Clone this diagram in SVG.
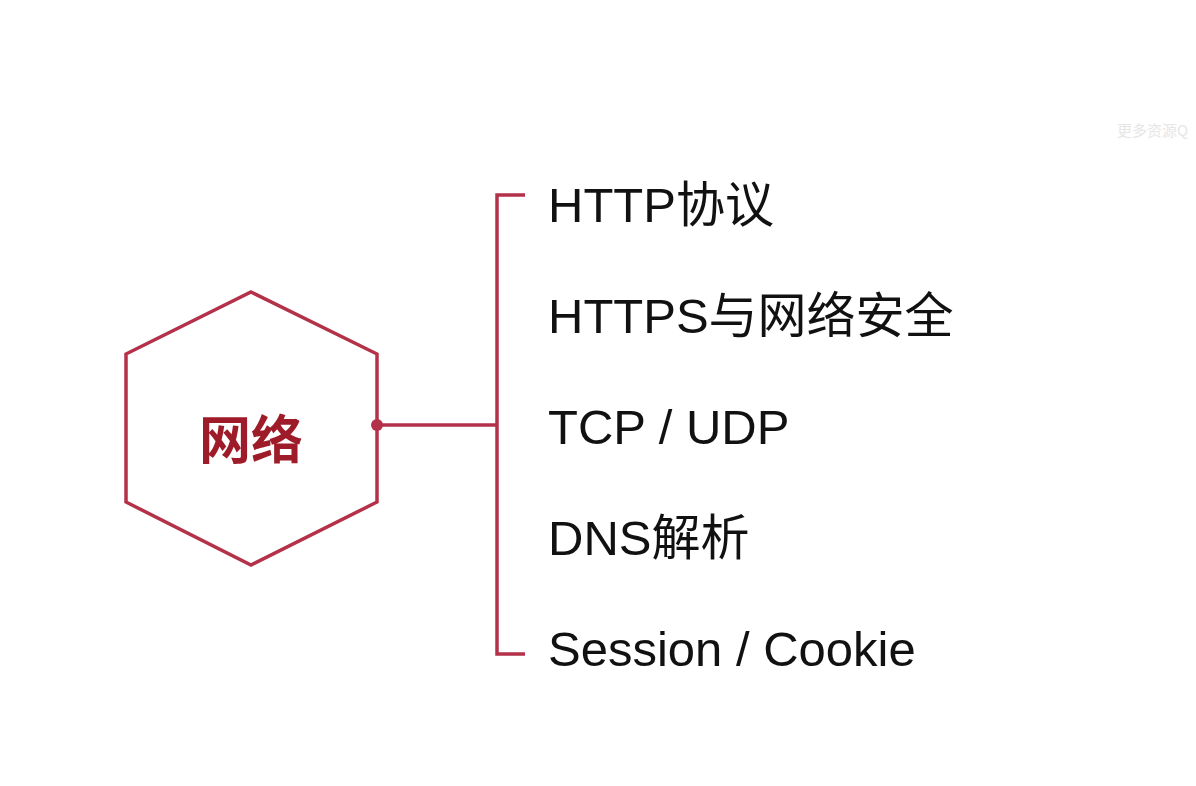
<svg xmlns="http://www.w3.org/2000/svg" width="1196" height="786" viewBox="0 0 1196 786">
<style>
.ln{fill:none;stroke:#b3324a;stroke-width:3.5;stroke-linecap:butt;stroke-linejoin:miter}
.lbl{font-family:"Liberation Sans","Noto Sans CJK SC",sans-serif;font-size:49px;fill:#111}
.ctr{font-family:"Noto Sans CJK SC",sans-serif;font-size:52px;font-weight:600;fill:#9e1c29}
.wm{font-family:"Noto Sans CJK SC",sans-serif;font-size:15px;fill:#e6e6e6}
</style>
<rect width="1196" height="786" fill="#ffffff"/>
<text class="wm" x="1117" y="136">更多资源Q</text>
<g id="hub">
<polygon class="ln" points="251,292 377,354 377,502 251,565 126,502 126,354"/>
<text class="ctr" x="251" y="459" text-anchor="middle">网络</text>
</g>
<g id="connectors">
<circle cx="377" cy="425" r="6" fill="#b3324a"/>
<path class="ln" d="M377,425 H497"/>
<path class="ln" d="M525,195 H497 V654 H525"/>
</g>
<g id="n1"><text class="lbl" x="548" y="222">HTTP协议</text></g>
<g id="n2"><text class="lbl" x="548" y="333">HTTPS与网络安全</text></g>
<g id="n3"><text class="lbl" x="548" y="444">TCP / UDP</text></g>
<g id="n4"><text class="lbl" x="548" y="555">DNS解析</text></g>
<g id="n5"><text class="lbl" x="548" y="666">Session / Cookie</text></g>
</svg>
